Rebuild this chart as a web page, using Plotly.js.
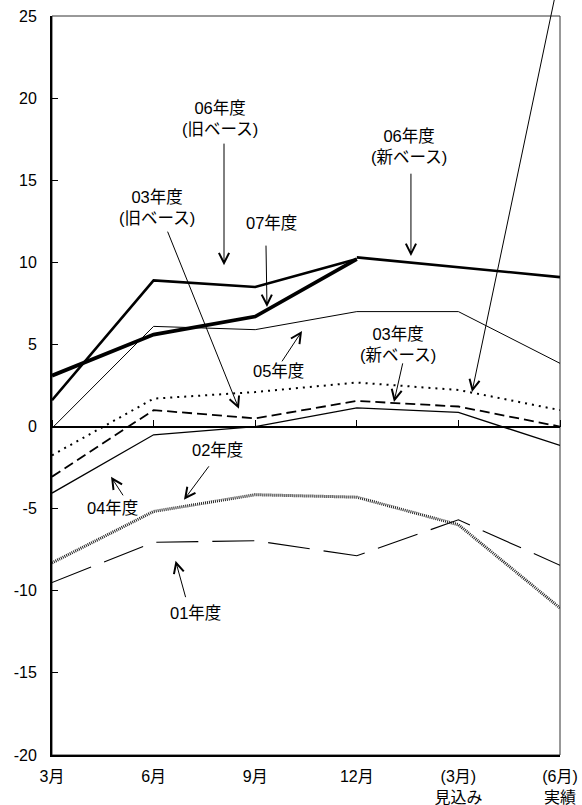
<!DOCTYPE html>
<html>
<head>
<meta charset="utf-8">
<script src="https://cdn.plot.ly/plotly-3.0.1.min.js"></script>
<style>html,body{margin:0;padding:0;background:#fff;}#chart{width:582px;height:805px;}</style>
</head>
<body>
<div id="chart"></div>
<script>
// Categories and tick labels
const categories = ['3月', '6月', '9月', '12月', '(3月)見込み', '(6月)実績'];
const tickLabels = ['3月', '6月', '9月', '12月', '(3月)<br>見込み', '(6月)<br>実績'];
const yTickVals = [-20, -15, -10, -5, 0, 5, 10, 15, 20, 25];
const yTickText = ['-20', '-15', '-10', '-5', '0', '5', '10', '15', '20', '25'];

// Series values
const fy06old = [1.6, 8.9, 8.5, 10.2, null, null];
const fy06new = [null, null, null, 10.3, 9.7, 9.1];
const fy07 = [3.1, 5.6, 6.7, 10.2, null, null];
const fy05 = [-0.1, 6.1, 5.9, 7.0, 7.0, 3.85];
const dottedSeries = [-1.75, 1.7, 2.1, 2.68, 2.23, 1.0];
const fy03 = [-3.05, 1.0, 0.5, 1.56, 1.22, 0.0];
const fy04 = [-4.05, -0.5, 0.0, 1.14, 0.86, -1.15];
const fy02 = [-8.3, -5.17, -4.15, -4.3, -5.98, -11.05];
const fy01 = [-9.5, -7.05, -6.95, -7.87, -5.68, -8.45];

// Annotation labels: text, x (category index), y (value)
const labelTexts = ['06年度<br>(旧ベース)', '03年度<br>(旧ベース)', '07年度', '06年度<br>(新ベース)', '05年度', '03年度<br>(新ベース)', '02年度', '04年度', '01年度'];
const labelX = [1.654, 1.033, 2.165, 3.514, 2.234, 3.406, 1.624, 0.591, 1.417];
const labelY = [18.78, 13.33, 12.38, 17.08, 3.39, 5.02, -1.42, -4.98, -11.33];
// Arrows: tail (ax, ay) -> tip (x, y)
const arrowTailX = [1.693, 1.132, 2.106, 3.533, 2.254, 3.455, 4.961, 1.555, 0.709, 1.319];
const arrowTailY = [17.32, 11.96, 11.11, 15.49, 3.88, 3.94, 26.5, -2.33, -4.28, -10.48];
const arrowTipX = [1.693, 1.84, 2.116, 3.533, 2.461, 3.366, 4.134, 1.299, 0.581, 1.216];
const arrowTipY = [9.82, 1.08, 7.28, 10.38, 5.82, 1.50, 2.11, -4.46, -3.06, -8.17];

const fontFam = "'Liberation Sans', Arial, 'Noto Sans CJK JP', sans-serif";

function tr(name, y, width, dash, color, xa) {
  return {
    type: 'scatter', mode: 'lines', name: name, x: categories, y: y,
    xaxis: xa || 'x',
    line: {color: color || '#000', width: width, dash: dash || 'solid'},
    connectgaps: false, hoverinfo: 'skip', cliponaxis: false
  };
}

const traces = [
  tr('01年度', fy01, 1.1, '42px,14px'),
  tr('02年度', fy02, 3, '1px,1px', '#222'),
  tr('04年度', fy04, 1.3),
  tr('03年度', fy03, 1.8, '10px,5px'),
  tr('点線系列', dottedSeries, 2, '2px,5px'),
  tr('05年度', fy05, 1, null, null, 'x2'),
  tr('06年度(旧ベース)', fy06old, 2.6),
  tr('06年度(新ベース)', fy06new, 2.6),
  tr('07年度', fy07, 3.8)
];

const annotations = [];
labelTexts.forEach((t, i) => {
  annotations.push({
    xref: 'x', yref: 'y', x: labelX[i], y: labelY[i], text: t, showarrow: false,
    font: {family: fontFam, size: 16.5, color: '#000'}, align: 'center'
  });
});
arrowTipX.forEach((x, i) => {
  annotations.push({
    xref: 'x', yref: 'y', axref: 'x', ayref: 'y',
    x: x, y: arrowTipY[i], ax: arrowTailX[i], ay: arrowTailY[i],
    text: '', showarrow: true, arrowhead: 5, arrowsize: 2, arrowwidth: 1,
    arrowcolor: '#000', standoff: 0, startstandoff: 0
  });
});

const layout = {
  width: 582, height: 805,
  margin: {l: 52, r: 22, t: 16, b: 50, pad: 0},
  paper_bgcolor: '#fff', plot_bgcolor: '#fff',
  showlegend: false,
  font: {family: fontFam, color: '#000'},
  xaxis: {
    type: 'category', categoryorder: 'array', categoryarray: categories,
    range: [0, 5], tickvals: categories, ticktext: tickLabels,
    showline: true, linecolor: '#000', linewidth: 2, ticks: '',
    showgrid: false, zeroline: false, ticklabelstandoff: 6,
    tickfont: {family: fontFam, size: 16, color: '#000'}
  },
  xaxis2: {
    type: 'category', categoryorder: 'array', categoryarray: categories,
    range: [0, 5], tickvals: categories, overlaying: 'x', anchor: 'free',
    position: 20 / 45, side: 'top', showline: true, linecolor: '#000', linewidth: 1,
    ticks: 'outside', ticklen: 7, tickwidth: 1, tickcolor: '#000',
    showticklabels: false, showgrid: false, zeroline: false
  },
  yaxis: {
    range: [-20, 25], tickvals: yTickVals, ticktext: yTickText,
    showline: true, linecolor: '#000', linewidth: 2,
    ticks: 'inside', ticklen: 6, tickwidth: 1, tickcolor: '#000',
    showgrid: false, zeroline: true, zerolinecolor: '#000', zerolinewidth: 1,
    ticklabelstandoff: 10,
    tickfont: {family: fontFam, size: 16, color: '#000'}
  },
  shapes: [{
    type: 'rect', xref: 'paper', yref: 'paper', x0: 0, x1: 1, y0: 0, y1: 1,
    line: {color: '#333', width: 1}, layer: 'below'
  }],
  annotations: annotations
};

Plotly.newPlot('chart', traces, layout, {staticPlot: true, displayModeBar: false});
</script>
</body>
</html>
